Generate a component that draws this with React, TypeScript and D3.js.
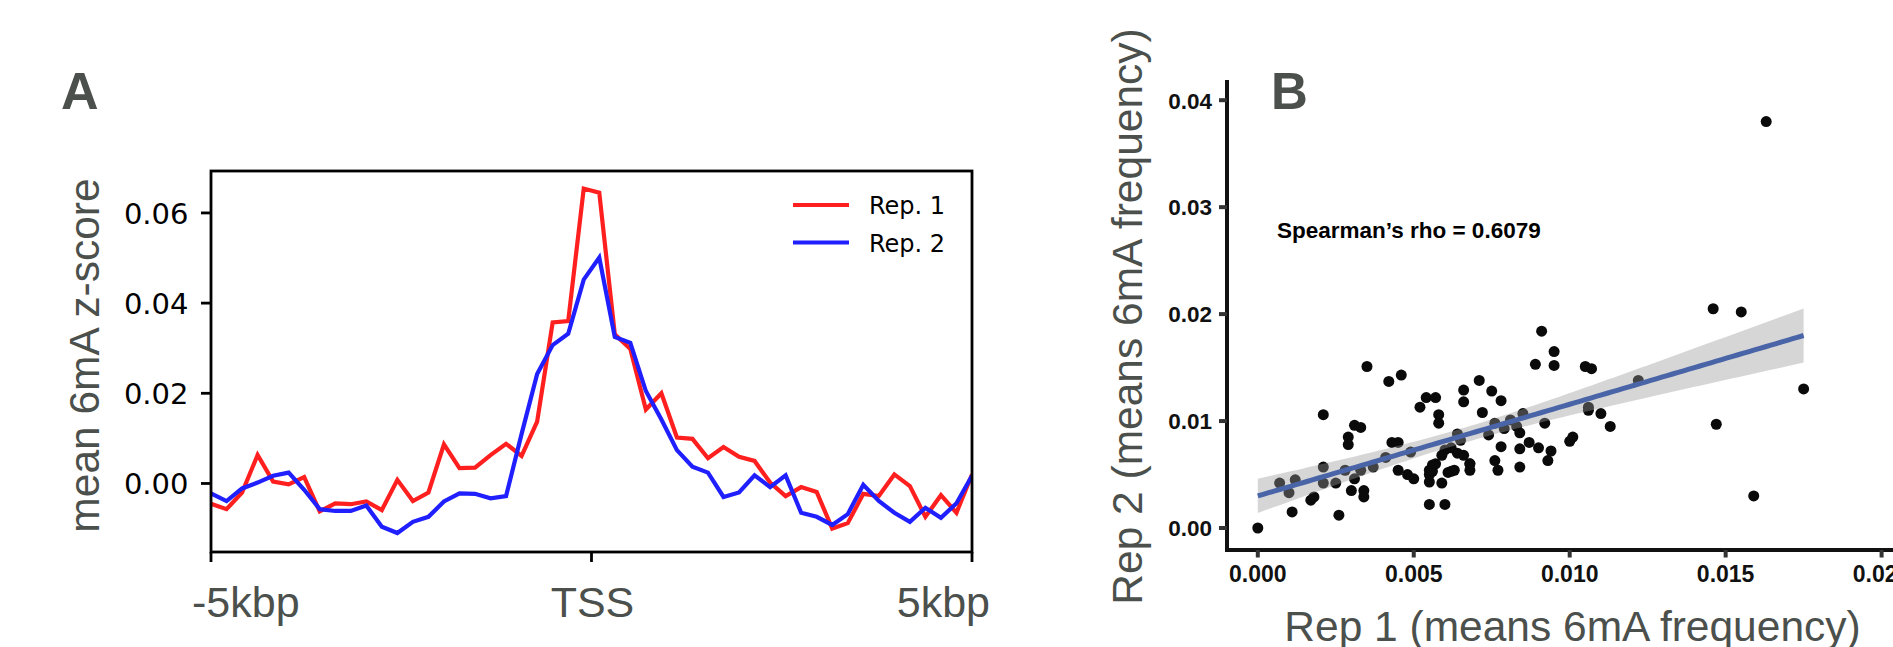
import React from "react";
import * as d3 from "d3";

// ---------- Panel A data (50 bins from -5kbp to +5kbp) ----------
const rep1: number[] = [
  -0.0045, -0.0057, -0.002, 0.0063, 0.0004, -0.0002, 0.0014, -0.0062, -0.0044, -0.0046,
  -0.004, -0.0059, 0.0008, -0.0039, -0.002, 0.0087, 0.0034, 0.0035, 0.0063, 0.0088,
  0.0061, 0.0137, 0.0357, 0.036, 0.0654, 0.0645, 0.0331, 0.0298, 0.0164, 0.02,
  0.0102, 0.0099, 0.0056, 0.0081, 0.0059, 0.005, 0.0002, -0.0028, -0.0008, -0.0019,
  -0.01, -0.0088, -0.0023, -0.0028, 0.002, -0.0006, -0.0074, -0.0026, -0.0065, 0.002,
];
const rep2: number[] = [
  -0.0022, -0.0039, -0.0011, 0.0002, 0.0017, 0.0024, -0.0014, -0.0057, -0.0061, -0.0061,
  -0.0049, -0.0096, -0.011, -0.0085, -0.0074, -0.004, -0.0022, -0.0023, -0.0033, -0.0028,
  0.011, 0.0243, 0.0307, 0.0332, 0.0452, 0.0501, 0.0325, 0.0312, 0.0205, 0.0142,
  0.0074, 0.0037, 0.0024, -0.003, -0.002, 0.0018, -0.0008, 0.0018, -0.0065, -0.0074,
  -0.0092, -0.0068, -0.0003, -0.0039, -0.0065, -0.0085, -0.0054, -0.0076, -0.0044, 0.0017,
];
const seriesNames = ["Rep. 1", "Rep. 2"];
const seriesColors = ["#ff1f1f", "#1f1fff"];
const aYTicks = [0, 0.02, 0.04, 0.06];
const aXTickLabels = ["-5kbp", "TSS", "5kbp"];
const aXTickBins = [0, 24.5, 49];

// ---------- Panel B data ----------
const rep1Freq: number[] = [
  0.0, 0.0007, 0.001, 0.0011, 0.0012, 0.0017, 0.0018, 0.0021, 0.0021, 0.0021,
  0.0025, 0.0026, 0.0028, 0.0029, 0.0029, 0.0031, 0.0033, 0.003, 0.0031, 0.0034,
  0.0034, 0.0035, 0.0037, 0.0041, 0.0042, 0.0046, 0.0043, 0.0045, 0.0045, 0.0048,
  0.0049, 0.005, 0.0052, 0.0054, 0.0057, 0.0058, 0.0058, 0.0055, 0.0055, 0.0055,
  0.0057, 0.0055, 0.006, 0.0059, 0.006, 0.0062, 0.0063, 0.0064, 0.0065, 0.0064,
  0.0066, 0.0066, 0.0066, 0.0068, 0.0068, 0.0071, 0.0072, 0.0074, 0.0075, 0.0076,
  0.0076, 0.0077, 0.0078, 0.0078, 0.0079, 0.0081, 0.0083, 0.0084, 0.0084, 0.0084,
  0.0085, 0.0087, 0.0089, 0.009, 0.0091, 0.0092, 0.0093, 0.0094, 0.0095, 0.0095,
  0.01, 0.0101, 0.0105, 0.0107, 0.0106, 0.0106, 0.011, 0.0113, 0.0122, 0.0146,
  0.0155, 0.0147, 0.0159, 0.0163, 0.0175, 0.0033, 0.0056, 0.0059, 0.0062, 0.0056,
  0.0061, 0.0068,
];
const rep2Freq: number[] = [
  0.0, 0.0042, 0.0033, 0.0015, 0.0045, 0.0026, 0.0029, 0.0106, 0.0057, 0.0042,
  0.0042, 0.0012, 0.0054, 0.0085, 0.0078, 0.0096, 0.0094, 0.0035, 0.0046, 0.0029,
  0.0035, 0.0151, 0.0057, 0.0066, 0.0137, 0.0143, 0.008, 0.008, 0.0054, 0.005,
  0.0071, 0.0046, 0.0113, 0.0122, 0.0122, 0.0106, 0.0098, 0.0054, 0.0043, 0.005,
  0.006, 0.0022, 0.0022, 0.0042, 0.0073, 0.0075, 0.0054, 0.0088, 0.0082, 0.007,
  0.0068, 0.0129, 0.0118, 0.006, 0.0054, 0.0138, 0.0108, 0.0087, 0.0128, 0.0098,
  0.0063, 0.0054, 0.0119, 0.0076, 0.0093, 0.0101, 0.0095, 0.0089, 0.0074, 0.0057,
  0.0107, 0.008, 0.0153, 0.0075, 0.0184, 0.0098, 0.0063, 0.0072, 0.0165, 0.0152,
  0.0081, 0.0085, 0.0151, 0.0149, 0.0113, 0.011, 0.0107, 0.0095, 0.0138, 0.0205,
  0.0202, 0.0097, 0.003, 0.038, 0.013, 0.0054, 0.0059, 0.0068, 0.0053, 0.0053,
  0.0052, 0.006,
];
const bXTicks = [0, 0.005, 0.01, 0.015, 0.02];
const bYTicks = [0, 0.01, 0.02, 0.03, 0.04];
// linear fit (lm + 95% band)
const fitIntercept = 0.003;
const fitSlope = 0.857;
const fitXMean = 0.0065;
const bandA = 4.9e-7;
const bandB = 0.049;

const GRAY = "#4b504c";
const SANS = "'Liberation Sans', Arial, Helvetica, sans-serif";
const DEJAVU = "'DejaVu Sans', sans-serif";

export default function App() {
  // Panel A scales
  const xA = d3.scaleLinear().domain([0, 49]).range([211, 972]);
  const yA = d3.scaleLinear().domain([-0.0152, 0.0693]).range([552, 171]);
  const lineA = d3
    .line<number>()
    .x((_, i) => xA(i))
    .y((d) => yA(d));

  // Panel B scales
  const xB = d3.scaleLinear().domain([0, 0.02]).range([1257.8, 1881.6]);
  const yB = d3.scaleLinear().domain([0, 0.04]).range([528, 100.2]);
  const pts = rep1Freq.map((x, i) => ({ x, y: rep2Freq[i] }));
  const [xmin, xmax] = d3.extent(rep1Freq) as [number, number];
  const fitXs = d3.range(0, 101).map((k) => xmin + ((xmax - xmin) * k) / 100);
  const fit = (x: number) => fitIntercept + fitSlope * x;
  const hw = (x: number) => Math.sqrt(bandA + bandB * (x - fitXMean) ** 2);
  const band = d3
    .area<number>()
    .x((x) => xB(x))
    .y0((x) => yB(fit(x) - hw(x)))
    .y1((x) => yB(fit(x) + hw(x)));
  const fitLine = d3
    .line<number>()
    .x((x) => xB(x))
    .y((x) => yB(fit(x)));

  return (
    <div style={{ position: "absolute", left: 0, top: 0 }}>
      <svg width={1893} height={647} style={{ display: "block", background: "#fff" }}>
        {/* ---------------- Panel A ---------------- */}
        <text x={61} y={109} fontFamily={SANS} fontWeight="bold" fontSize={52} fill={GRAY}>
          A
        </text>
        <clipPath id="clipA">
          <rect x={211} y={171} width={761} height={381} />
        </clipPath>
        <g clipPath="url(#clipA)">
          {[rep1, rep2].map((s, k) => (
            <path
              key={k}
              d={lineA(s) || ""}
              fill="none"
              stroke={seriesColors[k]}
              strokeWidth={4.2}
              strokeLinejoin="miter"
            />
          ))}
        </g>
        <rect x={211} y={171} width={761} height={381} fill="none" stroke="#000" strokeWidth={2.8} />
        {aYTicks.map((t) => (
          <g key={t}>
            <line x1={201} x2={211} y1={yA(t)} y2={yA(t)} stroke="#000" strokeWidth={2.8} />
            <text
              x={188.5}
              y={yA(t) + 11}
              textAnchor="end"
              fontFamily={DEJAVU}
              fontSize={29}
              fill="#000"
            >
              {t.toFixed(2)}
            </text>
          </g>
        ))}
        {aXTickBins.map((b, i) => (
          <g key={i}>
            <line x1={xA(b)} x2={xA(b)} y1={552} y2={562} stroke="#000" strokeWidth={2.8} />
            <text
              x={xA(b) + (i === 0 ? -19 : i === 2 ? 18 : 1)}
              y={617}
              textAnchor={i === 0 ? "start" : i === 2 ? "end" : "middle"}
              fontFamily={SANS}
              fontSize={43}
              fill={GRAY}
            >
              {aXTickLabels[i]}
            </text>
          </g>
        ))}
        <text
          transform={`translate(99,355.5) rotate(-90)`}
          textAnchor="middle"
          fontFamily={SANS}
          fontSize={42.5}
          fill={GRAY}
        >
          mean 6mA z-score
        </text>
        {seriesNames.map((n, k) => (
          <g key={n}>
            <line
              x1={793}
              x2={849}
              y1={205 + k * 37.5}
              y2={205 + k * 37.5}
              stroke={seriesColors[k]}
              strokeWidth={4.2}
            />
            <text x={869} y={213.7 + k * 38.3} fontFamily={DEJAVU} fontSize={24} fill="#000">
              {n}
            </text>
          </g>
        ))}

        {/* ---------------- Panel B ---------------- */}
        {pts.map((p, i) => (
          <circle key={i} cx={xB(p.x)} cy={yB(p.y)} r={5.5} fill="#0a0a0a" />
        ))}
        <path d={band(fitXs) || ""} fill="#999999" fillOpacity={0.4} stroke="none" />
        <path d={fitLine(fitXs) || ""} fill="none" stroke="#4a64a8" strokeWidth={5} />

        <line x1={1227} x2={1227} y1={80} y2={552} stroke="#111" strokeWidth={4} />
        <line x1={1225} x2={1893} y1={550} y2={550} stroke="#111" strokeWidth={4} />
        {bYTicks.map((t) => (
          <g key={t}>
            <line x1={1219} x2={1227} y1={yB(t)} y2={yB(t)} stroke="#333" strokeWidth={4} />
            <text
              x={1212}
              y={yB(t) + 8.3}
              textAnchor="end"
              fontFamily={SANS}
              fontWeight="bold"
              fontSize={22.5}
              fill="#111"
            >
              {t.toFixed(2)}
            </text>
          </g>
        ))}
        {bXTicks.map((t) => (
          <g key={t}>
            <line x1={xB(t)} x2={xB(t)} y1={550} y2={557.5} stroke="#333" strokeWidth={4} />
            <text
              x={xB(t)}
              y={581.5}
              textAnchor="middle"
              fontFamily={SANS}
              fontWeight="bold"
              fontSize={23}
              fill="#111"
            >
              {t.toFixed(3)}
            </text>
          </g>
        ))}
        <text x={1271} y={109} fontFamily={SANS} fontWeight="bold" fontSize={51} fill={GRAY}>
          B
        </text>
        <text x={1277} y={238} fontFamily={SANS} fontWeight="bold" fontSize={22.5} fill="#000">
          Spearman’s rho = 0.6079
        </text>
        <text
          transform={`translate(1142,316.5) rotate(-90)`}
          textAnchor="middle"
          fontFamily={SANS}
          fontSize={42.5}
          fill={GRAY}
        >
          Rep 2 (means 6mA frequency)
        </text>
        <text
          x={1572.5}
          y={641}
          textAnchor="middle"
          fontFamily={SANS}
          fontSize={42.5}
          fill={GRAY}
        >
          Rep 1 (means 6mA frequency)
        </text>
      </svg>
    </div>
  );
}
